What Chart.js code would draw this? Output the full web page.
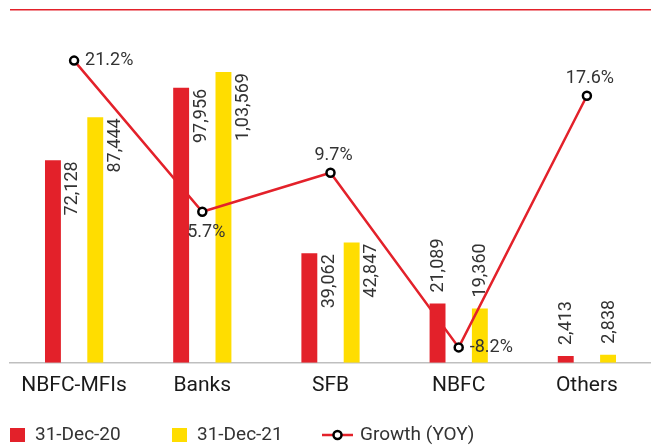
<!DOCTYPE html>
<html>
<head>
<meta charset="utf-8">
<script src="https://cdn.jsdelivr.net/npm/chart.js@4.4.1/dist/chart.umd.min.js"></script>
<style>
  html, body { margin: 0; padding: 0; background: #fff; }
  canvas { display: block; }
</style>
</head>
<body>
<canvas id="chart" width="651" height="445"></canvas>
<script>
// --- Data ---
const categories = ['NBFC-MFIs', 'Banks', 'SFB', 'NBFC', 'Others'];
const dec20 = [72128, 97956, 39062, 21089, 2413];
const dec21 = [87444, 103569, 42847, 19360, 2838];
const growth = [21.2, 5.7, 9.7, -8.2, 17.6];
const seriesNames = ['31-Dec-20', '31-Dec-21', 'Growth (YOY)'];

// where each growth label sits relative to its point
const growthLabelPos = ['right', 'below', 'above', 'right', 'above'];

const RED = '#e3212a';
const YELLOW = '#ffdd00';
const FONT = 'Roboto, "Noto Sans", sans-serif';

// --- Indian number format (1,03,569) ---
function fmtIN(n) {
    const s = String(n);
    if (s.length <= 3) return s;
    const last3 = s.slice(-3);
    const rest = s.slice(0, -3).replace(/\B(?=(\d{2})+(?!\d))/g, ',');
    return rest + ',' + last3;
}

// --- Value labels on bars and line ---
const valueLabels = {
    id: 'valueLabels',
    afterDatasetsDraw(chart) {
        const ctx = chart.ctx;
        ctx.save();
        ctx.font = '18px ' + FONT;
        ctx.fillStyle = '#333';

        [dec20, dec21].forEach((values, i) => {
            const meta = chart.getDatasetMeta(i);
            meta.data.forEach((bar, j) => {
                const h = bar.base - bar.y;
                ctx.save();
                if (h > 100) {
                    ctx.translate(bar.x + bar.width / 2 + 16.5, bar.y + 1);
                    ctx.rotate(-Math.PI / 2);
                    ctx.textAlign = 'right';
                } else {
                    ctx.translate(bar.x + 5.5, bar.y - 11);
                    ctx.rotate(-Math.PI / 2);
                    ctx.textAlign = 'left';
                }
                ctx.textBaseline = 'alphabetic';
                ctx.fillText(fmtIN(values[j]), 0, 0);
                ctx.restore();
            });
        });

        const lineMeta = chart.getDatasetMeta(2);
        lineMeta.data.forEach((pt, j) => {
            const txt = growth[j].toFixed(1) + '%';
            const pos = growthLabelPos[j];
            if (pos === 'right') {
                ctx.textAlign = 'left';
                ctx.textBaseline = 'middle';
                ctx.fillText(txt, pt.x + 11, pt.y);
            } else if (pos === 'below') {
                ctx.textAlign = 'center';
                ctx.textBaseline = 'alphabetic';
                ctx.fillText(txt, pt.x + 4, pt.y + 25.5);
            } else {
                ctx.textAlign = 'center';
                ctx.textBaseline = 'alphabetic';
                ctx.fillText(txt, pt.x + 3, pt.y - 13);
            }
        });
        ctx.restore();
    }
};

// --- Top rule + legend ---
const decorations = {
    id: 'decorations',
    afterDraw(chart) {
        const ctx = chart.ctx;
        const area = chart.chartArea;
        ctx.save();

        // red rule at the top
        ctx.strokeStyle = RED;
        ctx.lineWidth = 1.5;
        ctx.beginPath();
        ctx.moveTo(area.left, 9.75);
        ctx.lineTo(area.right, 9.75);
        ctx.stroke();

        // legend
        const ly = 435;
        ctx.font = '19px ' + FONT;
        ctx.textBaseline = 'middle';
        ctx.textAlign = 'left';

        ctx.fillStyle = RED;
        ctx.fillRect(10, 428, 15, 14);
        ctx.fillStyle = '#333';
        ctx.fillText(seriesNames[0], 35, ly);

        ctx.fillStyle = YELLOW;
        ctx.fillRect(172, 428, 15, 14);
        ctx.fillStyle = '#333';
        ctx.fillText(seriesNames[1], 197, ly);

        ctx.strokeStyle = RED;
        ctx.lineWidth = 2.5;
        ctx.beginPath();
        ctx.moveTo(322, ly);
        ctx.lineTo(353, ly);
        ctx.stroke();
        ctx.beginPath();
        ctx.arc(337.5, ly, 4, 0, Math.PI * 2);
        ctx.fillStyle = '#fff';
        ctx.fill();
        ctx.strokeStyle = '#000';
        ctx.lineWidth = 2.5;
        ctx.stroke();
        ctx.fillStyle = '#333';
        ctx.fillText(seriesNames[2], 360, ly);

        ctx.restore();
    }
};

new Chart(document.getElementById('chart'), {
    type: 'bar',
    data: {
        labels: categories,
        datasets: [
            {
                label: seriesNames[0],
                data: dec20,
                backgroundColor: RED,
                categoryPercentage: 0.66,
                barPercentage: 0.376,
                order: 1
            },
            {
                label: seriesNames[1],
                data: dec21,
                backgroundColor: YELLOW,
                categoryPercentage: 0.66,
                barPercentage: 0.376,
                order: 1
            },
            {
                type: 'line',
                label: seriesNames[2],
                data: growth,
                yAxisID: 'y1',
                borderColor: RED,
                borderWidth: 2.5,
                pointRadius: 4,
                pointBorderWidth: 2.5,
                pointBorderColor: '#000',
                pointBackgroundColor: '#fff',
                tension: 0,
                clip: false,
                order: 0
            }
        ]
    },
    options: {
        responsive: false,
        animation: false,
        devicePixelRatio: 1,
        layout: { autoPadding: false, padding: { left: 10, right: 0, top: 10, bottom: 37 } },
        plugins: {
            legend: { display: false },
            tooltip: { enabled: false }
        },
        scales: {
            x: {
                grid: { display: false, drawTicks: false },
                border: { display: true, color: '#bfbfbf', width: 1.5 },
                ticks: { font: { family: FONT, size: 21 }, color: '#1a1a1a', padding: 10 }
            },
            y: { display: false, min: 0, max: 125700 },
            y1: { display: false, position: 'right', min: -9.78, max: 26.39 }
        }
    },
    plugins: [valueLabels, decorations]
});
</script>
</body>
</html>
